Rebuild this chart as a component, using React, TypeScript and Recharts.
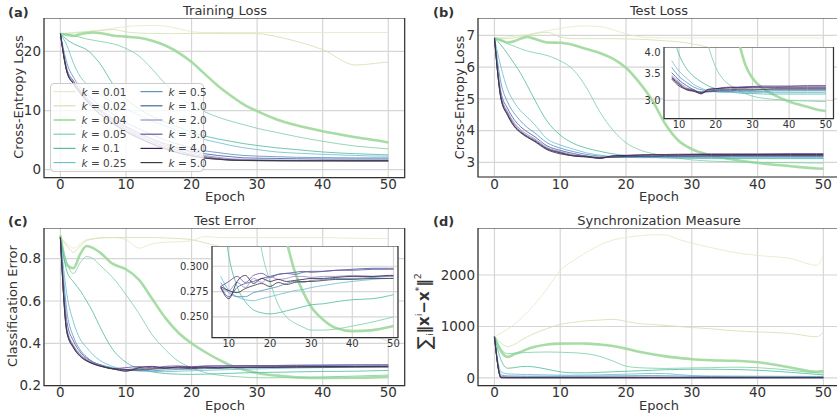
import { LineChart, Line, XAxis, YAxis, CartesianGrid, ReferenceArea } from 'recharts'

const EPOCHS = [0, 1, 2, 3, 4, 5, 6, 8, 10, 12, 14, 16, 18, 20, 22, 24, 26, 28, 30, 33, 36, 40, 45, 49, 50]

const K_VALUES = ['0.01', '0.02', '0.04', '0.05', '0.1', '0.25', '0.5', '1.0', '2.0', '3.0', '4.0', '5.0']

const COLORS = [
  '#e6eac6', '#d2e3b0', '#9fd89b', '#80d1a8', '#55bea2', '#6fc0d2',
  '#5d92c4', '#4a62a4', '#9a8fc4', '#6b55a0', '#3b1f55', '#3c3c3c',
]

// one row per k, same order as K_VALUES
const TRAIN_LOSS = [
  [23, 23.1, 23.2, 23.3, 23.4, 23.5, 23.6, 23.9, 24.2, 24.35, 24.4, 24.3, 23.85, 23.35, 23.2, 23.2, 23.2, 23.2, 23.2, 23.2, 23.2, 23.2, 23.2, 23.2, 23.2],
  [23, 23.05, 23.1, 23.2, 23.3, 23.4, 23.5, 23.7, 23.3, 23.1, 23.05, 23.0, 23.0, 23.05, 23.05, 23.05, 23.0, 23.0, 23.0, 22.5, 21.7, 20.3, 17.7, 18.1, 18.2],
  [23, 22.8, 22.6, 22.9, 23.1, 23.2, 23.1, 22.7, 22.5, 22.3, 21.8, 21.0, 19.8, 18.2, 16.2, 14.2, 12.5, 11.0, 9.9, 8.5, 7.5, 6.5, 5.5, 4.8, 4.6],
  [23, 22.9, 22.7, 22.4, 22.1, 21.9, 21.7, 21.3, 20.5, 19.2, 17.0, 14.5, 12.5, 10.9, 9.8, 8.9, 8.2, 7.6, 7.0, 6.3, 5.6, 4.8, 4.0, 3.6, 3.5],
  [23, 22.0, 21.3, 20.8, 20.3, 19.3, 18.0, 14.5, 12.0, 10.3, 9.0, 8.0, 7.2, 6.3, 5.7, 5.2, 4.8, 4.4, 4.1, 3.7, 3.4, 3.0, 2.7, 2.55, 2.5],
  [23, 21.0, 18.0, 15.8, 14.5, 13.5, 12.7, 11.4, 10.3, 9.2, 8.2, 7.4, 6.6, 5.8, 5.1, 4.6, 4.1, 3.7, 3.4, 3.0, 2.8, 2.6, 2.4, 2.3, 2.3],
  [23, 18.0, 15.6, 14.0, 12.8, 11.8, 10.9, 9.4, 8.0, 6.9, 5.9, 5.0, 4.3, 3.7, 3.2, 2.9, 2.6, 2.4, 2.3, 2.2, 2.1, 2.05, 2.0, 2.0, 2.0],
  [23, 17.0, 15.0, 13.5, 12.2, 11.1, 10.2, 8.6, 7.3, 6.2, 5.2, 4.4, 3.7, 3.1, 2.7, 2.4, 2.2, 2.0, 1.95, 1.9, 1.85, 1.8, 1.8, 1.8, 1.8],
  [23, 16.8, 14.9, 13.4, 12.1, 11.0, 10.1, 8.5, 7.1, 6.0, 5.0, 4.2, 3.5, 2.9, 2.4, 2.1, 1.85, 1.75, 1.7, 1.65, 1.6, 1.6, 1.55, 1.55, 1.55],
  [23, 16.6, 14.7, 13.2, 11.9, 10.8, 9.9, 8.2, 6.8, 5.7, 4.7, 3.9, 3.2, 2.6, 2.2, 1.9, 1.7, 1.62, 1.58, 1.55, 1.53, 1.52, 1.5, 1.5, 1.5],
  [23, 16.5, 14.5, 13.0, 11.7, 10.5, 9.5, 7.9, 6.5, 5.4, 4.4, 3.6, 2.9, 2.4, 2.0, 1.8, 1.62, 1.57, 1.55, 1.52, 1.5, 1.5, 1.5, 1.5, 1.5],
  [23, 16.5, 14.5, 12.9, 11.6, 10.4, 9.4, 7.8, 6.4, 5.3, 4.3, 3.5, 2.8, 2.3, 1.95, 1.75, 1.6, 1.55, 1.52, 1.5, 1.5, 1.5, 1.48, 1.48, 1.48],
]

const TEST_LOSS = [
  [6.92, 6.93, 6.95, 6.98, 7.0, 7.03, 7.07, 7.15, 7.22, 7.28, 7.3, 7.28, 7.18, 7.05, 6.96, 6.93, 6.92, 6.92, 6.92, 6.92, 6.92, 6.92, 6.92, 6.92, 6.92],
  [6.92, 6.9, 6.9, 6.93, 6.97, 7.0, 7.05, 7.1, 6.95, 6.9, 6.9, 6.9, 6.9, 6.89, 6.88, 6.86, 6.83, 6.8, 6.74, 6.6, 6.4, 6.1, 5.8, 5.75, 5.85],
  [6.92, 6.85, 6.78, 6.82, 6.9, 6.95, 6.9, 6.78, 6.77, 6.7, 6.57, 6.45, 6.27, 5.98, 5.52, 4.95, 4.2, 3.68, 3.42, 3.22, 3.1, 2.98, 2.88, 2.81, 2.8],
  [6.92, 6.84, 6.74, 6.66, 6.58, 6.51, 6.46, 6.37, 6.2, 5.92, 5.35, 4.6, 4.02, 3.62, 3.4, 3.28, 3.2, 3.13, 3.08, 3.04, 3.02, 3.0, 2.99, 2.98, 2.98],
  [6.92, 6.7, 6.42, 6.12, 5.8, 5.42, 5.02, 4.3, 3.86, 3.6, 3.45, 3.35, 3.27, 3.22, 3.18, 3.16, 3.14, 3.13, 3.13, 3.12, 3.12, 3.12, 3.12, 3.12, 3.12],
  [6.92, 6.0, 5.3, 4.9, 4.62, 4.42, 4.22, 3.74, 3.55, 3.42, 3.3, 3.23, 3.18, 3.16, 3.15, 3.15, 3.15, 3.15, 3.15, 3.15, 3.15, 3.15, 3.15, 3.15, 3.15],
  [6.92, 5.5, 4.9, 4.55, 4.3, 4.1, 3.95, 3.62, 3.45, 3.34, 3.25, 3.2, 3.18, 3.17, 3.17, 3.17, 3.17, 3.17, 3.17, 3.17, 3.18, 3.18, 3.18, 3.18, 3.18],
  [6.92, 5.2, 4.7, 4.35, 4.12, 3.96, 3.83, 3.52, 3.38, 3.28, 3.2, 3.16, 3.16, 3.17, 3.18, 3.18, 3.19, 3.19, 3.19, 3.2, 3.2, 3.2, 3.2, 3.2, 3.2],
  [6.92, 5.1, 4.6, 4.25, 4.03, 3.88, 3.76, 3.47, 3.34, 3.24, 3.18, 3.14, 3.19, 3.21, 3.22, 3.22, 3.23, 3.23, 3.24, 3.24, 3.24, 3.25, 3.25, 3.25, 3.25],
  [6.92, 5.05, 4.55, 4.2, 3.98, 3.83, 3.72, 3.44, 3.32, 3.22, 3.2, 3.12, 3.2, 3.22, 3.24, 3.25, 3.25, 3.26, 3.26, 3.27, 3.27, 3.27, 3.28, 3.28, 3.28],
  [6.92, 5.0, 4.5, 4.15, 3.95, 3.8, 3.69, 3.42, 3.3, 3.2, 3.17, 3.13, 3.21, 3.22, 3.23, 3.24, 3.24, 3.24, 3.25, 3.25, 3.25, 3.25, 3.25, 3.25, 3.25],
  [6.92, 5.0, 4.48, 4.13, 3.93, 3.79, 3.67, 3.4, 3.27, 3.21, 3.18, 3.15, 3.17, 3.19, 3.2, 3.2, 3.21, 3.21, 3.21, 3.21, 3.22, 3.22, 3.22, 3.22, 3.22],
]

const TEST_ERROR = [
  [0.9, 0.87, 0.85, 0.87, 0.89, 0.895, 0.9, 0.9, 0.89, 0.85, 0.87, 0.878, 0.88, 0.885, 0.905, 0.9, 0.9, 0.9, 0.9, 0.9, 0.9, 0.9, 0.896, 0.895, 0.895],
  [0.9, 0.86, 0.83, 0.86, 0.885, 0.893, 0.897, 0.9, 0.9, 0.9, 0.9, 0.898, 0.895, 0.89, 0.875, 0.86, 0.84, 0.82, 0.79, 0.74, 0.68, 0.6, 0.49, 0.42, 0.41],
  [0.91, 0.77, 0.755, 0.82, 0.86, 0.85, 0.83, 0.775, 0.75, 0.7, 0.61, 0.52, 0.45, 0.4, 0.36, 0.325, 0.295, 0.275, 0.26, 0.247, 0.239, 0.236, 0.237, 0.24, 0.241],
  [0.9, 0.78, 0.73, 0.78, 0.81, 0.8, 0.77, 0.71, 0.63, 0.54, 0.44, 0.37, 0.315, 0.285, 0.262, 0.25, 0.244, 0.24, 0.237, 0.237, 0.238, 0.241, 0.245, 0.249, 0.25],
  [0.9, 0.74, 0.69, 0.65, 0.6, 0.545, 0.48, 0.37, 0.31, 0.28, 0.265, 0.257, 0.254, 0.253, 0.254, 0.256, 0.258, 0.26, 0.262, 0.263, 0.265, 0.267, 0.268, 0.271, 0.272],
  [0.9, 0.63, 0.5, 0.42, 0.38, 0.345, 0.32, 0.29, 0.276, 0.27, 0.267, 0.266, 0.268, 0.27, 0.272, 0.274, 0.276, 0.277, 0.279, 0.281, 0.283, 0.285, 0.287, 0.288, 0.288],
  [0.9, 0.55, 0.43, 0.37, 0.335, 0.312, 0.3, 0.284, 0.274, 0.27, 0.27, 0.274, 0.276, 0.278, 0.28, 0.283, 0.285, 0.284, 0.286, 0.287, 0.288, 0.288, 0.289, 0.29, 0.29],
  [0.9, 0.5, 0.41, 0.36, 0.33, 0.31, 0.298, 0.28, 0.27, 0.279, 0.283, 0.285, 0.288, 0.29, 0.292, 0.293, 0.292, 0.294, 0.295, 0.295, 0.296, 0.297, 0.298, 0.298, 0.298],
  [0.9, 0.47, 0.39, 0.35, 0.325, 0.308, 0.297, 0.278, 0.276, 0.284, 0.279, 0.288, 0.284, 0.29, 0.287, 0.288, 0.29, 0.29, 0.289, 0.29, 0.29, 0.291, 0.29, 0.29, 0.29],
  [0.9, 0.46, 0.385, 0.345, 0.32, 0.305, 0.295, 0.28, 0.285, 0.29, 0.284, 0.291, 0.293, 0.289, 0.292, 0.293, 0.294, 0.295, 0.294, 0.295, 0.296, 0.296, 0.297, 0.297, 0.297],
  [0.9, 0.45, 0.38, 0.34, 0.318, 0.303, 0.293, 0.279, 0.268, 0.285, 0.291, 0.283, 0.288, 0.285, 0.287, 0.285, 0.286, 0.287, 0.288, 0.288, 0.289, 0.29, 0.29, 0.291, 0.291],
  [0.9, 0.45, 0.378, 0.338, 0.316, 0.302, 0.292, 0.28, 0.276, 0.274, 0.278, 0.281, 0.283, 0.28, 0.284, 0.282, 0.284, 0.285, 0.285, 0.286, 0.287, 0.287, 0.288, 0.288, 0.288],
]

const SYNC = [
  [800, 870, 950, 1040, 1150, 1280, 1410, 1735, 2090, 2280, 2440, 2580, 2680, 2730, 2760, 2780, 2780, 2690, 2620, 2530, 2450, 2380, 2320, 2190, 2380],
  [800, 680, 610, 650, 730, 800, 860, 960, 1040, 1080, 1110, 1125, 1140, 1100, 1055, 1040, 1020, 1000, 980, 955, 920, 895, 865, 800, 890],
  [800, 520, 410, 460, 505, 560, 600, 650, 667, 670, 668, 650, 620, 570, 510, 460, 420, 390, 365, 345, 335, 305, 205, 120, 135],
  [800, 560, 470, 480, 490, 495, 500, 505, 500, 490, 470, 420, 330, 230, 200, 190, 185, 190, 195, 200, 210, 200, 150, 100, 95],
  [800, 350, 190, 200, 220, 225, 215, 170, 120, 100, 100, 110, 120, 130, 140, 150, 160, 165, 170, 170, 165, 150, 110, 70, 60],
  [800, 120, 80, 75, 70, 68, 65, 60, 55, 55, 58, 62, 68, 75, 82, 88, 85, 65, 48, 40, 38, 35, 32, 30, 30],
  [800, 60, 40, 38, 36, 35, 35, 34, 34, 35, 36, 38, 40, 42, 44, 45, 42, 38, 32, 28, 25, 22, 20, 20, 20],
  [800, 25, 18, 16, 15, 15, 15, 15, 15, 16, 17, 18, 18, 18, 17, 16, 15, 14, 13, 12, 12, 12, 11, 11, 11],
  [800, 12, 9, 8, 8, 8, 8, 8, 8, 8, 8, 8, 8, 8, 8, 8, 8, 8, 7, 7, 7, 7, 7, 7, 7],
  [800, 8, 6, 6, 6, 6, 6, 6, 6, 6, 6, 6, 6, 6, 6, 6, 6, 6, 6, 6, 6, 6, 6, 6, 6],
  [800, 6, 5, 5, 5, 5, 5, 5, 5, 5, 5, 5, 5, 5, 5, 5, 5, 5, 5, 5, 5, 5, 5, 5, 5],
  [800, 5, 4, 4, 4, 4, 4, 4, 4, 4, 4, 4, 4, 4, 4, 4, 4, 4, 4, 4, 4, 4, 4, 4, 4],
]

const X_TICKS = [0, 10, 20, 30, 40, 50]
const INSET_X_TICKS = [10, 20, 30, 40, 50]

const TEXT = '#333333'
const GRID = '#d6d6d6'
const FRAME = '#333333'
const Y_W = 44
const X_H = 26

function buildRows(series: number[][], minEpoch = 0) {
  return EPOCHS.map((epoch, i) => {
    const row: Record<string, number> = { epoch }
    series.forEach((vals, j) => { row[`s${j}`] = vals[i] })
    return row
  }).filter((r) => r.epoch >= minEpoch)
}

function seriesLines(series: number[][]) {
  return series.map((_, j) => (
    <Line
      key={j}
      type="monotone"
      dataKey={`s${j}`}
      stroke={COLORS[j]}
      strokeWidth={j === 2 ? 2.6 : 1}
      strokeOpacity={j === 2 ? 0.9 : 0.85}
      dot={false}
      activeDot={false}
      isAnimationActive={false}
    />
  ))
}

interface PanelProps {
  left: number
  top: number
  plotW: number
  plotH: number
  series: number[][]
  yDomain: [number, number]
  yTicks: number[]
}

function Panel({ left, top, plotW, plotH, series, yDomain, yTicks }: PanelProps) {
  const xDomain: [number, number] = [-2.5, 52.5]
  return (
    <div style={{ position: 'absolute', left: left - Y_W, top }}>
      <LineChart
        width={Y_W + plotW + 4}
        height={plotH + X_H}
        data={buildRows(series)}
        margin={{ top: 0, right: 4, bottom: 0, left: 0 }}
      >
        <CartesianGrid stroke={GRID} strokeWidth={1.2} />
        <XAxis
          type="number"
          dataKey="epoch"
          domain={xDomain}
          ticks={X_TICKS}
          allowDataOverflow
          height={X_H}
          tickLine={false}
          axisLine={false}
          tickSize={0}
          tickMargin={2}
          tick={{ fontSize: 13.5, fill: TEXT }}
        />
        <YAxis
          type="number"
          domain={yDomain}
          ticks={yTicks}
          allowDataOverflow
          width={Y_W}
          tickLine={false}
          axisLine={false}
          tickSize={0}
          tickMargin={3}
          tick={{ fontSize: 13.5, fill: TEXT }}
        />
        {seriesLines(series)}
        <ReferenceArea x1={xDomain[0]} x2={xDomain[1]} y1={yDomain[0]} y2={yDomain[1]}
          fill="none" stroke={FRAME} strokeWidth={1.2} fillOpacity={0} />
      </LineChart>
    </div>
  )
}

interface InsetProps extends PanelProps {
  xDomain: [number, number]
  yW: number
  fmt: (v: number) => string
}

function Inset({ left, top, plotW, plotH, series, xDomain, yDomain, yTicks, yW, fmt }: InsetProps) {
  return (
    <>
      <div style={{ position: 'absolute', left, top, width: plotW, height: plotH, background: '#ffffff' }} />
      <div style={{ position: 'absolute', left: left - yW, top }}>
        <LineChart
          width={yW + plotW + 2}
          height={plotH + 14}
          data={buildRows(series, 8)}
          margin={{ top: 0, right: 2, bottom: 0, left: 0 }}
        >
          <CartesianGrid stroke={GRID} strokeWidth={1.2} />
          <XAxis
            type="number"
            dataKey="epoch"
            domain={xDomain}
            ticks={INSET_X_TICKS}
            allowDataOverflow
            height={14}
            tickLine={false}
            axisLine={false}
            tickSize={0}
            tickMargin={2}
            tick={{ fontSize: 10, fill: TEXT }}
          />
          <YAxis
            type="number"
            domain={yDomain}
            ticks={yTicks}
            allowDataOverflow
            width={yW}
            tickLine={false}
            axisLine={false}
            tickSize={0}
            tickMargin={3.5}
            tickFormatter={fmt}
            tick={{ fontSize: 10, fill: TEXT }}
          />
          {seriesLines(series)}
          <ReferenceArea x1={xDomain[0]} x2={xDomain[1]} y1={yDomain[0]} y2={yDomain[1]}
            fill="none" stroke={FRAME} strokeWidth={1.2} fillOpacity={0} />
        </LineChart>
      </div>
    </>
  )
}

function KLegend() {
  return (
    <div style={{
      position: 'absolute', left: 49.5, top: 82.7, width: 154.5, height: 89,
      border: '1px solid #cccccc', borderRadius: 4, background: 'rgba(255,255,255,0.8)',
      boxSizing: 'border-box',
    }}>
      <svg width={154} height={88} style={{ position: 'absolute', left: -1, top: -1, overflow: 'visible' }}>
        {K_VALUES.map((k, i) => {
          const col = Math.floor(i / 6)
          const row = i % 6
          const x0 = col === 0 ? 3.5 : 90.5
          const y = 8.6 + row * 14.2
          return (
            <g key={k}>
              <line x1={x0} x2={x0 + 22} y1={y} y2={y} stroke={COLORS[i]} strokeWidth={i === 2 ? 1.6 : 1.2} />
              <text x={x0 + 28} y={y} dominantBaseline="central" fontSize={10.5} fill="#444444">
                <tspan fontStyle="italic">k</tspan> = {k}
              </text>
            </g>
          )
        })}
      </svg>
    </div>
  )
}

function Labels() {
  const title = { fontSize: 13, fill: TEXT, textAnchor: 'middle' as const }
  const letter = { fontSize: 13, fill: TEXT, fontWeight: 'bold' as const }
  return (
    <svg width={837} height={418} style={{ position: 'absolute', left: 0, top: 0, pointerEvents: 'none' }}>
      <text x={8} y={17} {...letter}>(a)</text>
      <text x={433} y={17} {...letter}>(b)</text>
      <text x={8} y={226} {...letter}>(c)</text>
      <text x={433} y={226} {...letter}>(d)</text>

      <text x={225} y={15} {...title}>Training Loss</text>
      <text x={659} y={15} {...title}>Test Loss</text>
      <text x={225} y={224.5} {...title}>Test Error</text>
      <text x={659} y={224.5} {...title}>Synchronization Measure</text>

      <text x={225} y={201} {...title}>Epoch</text>
      <text x={659} y={201} {...title}>Epoch</text>
      <text x={225} y={410} {...title}>Epoch</text>
      <text x={659} y={410} {...title}>Epoch</text>

      <text transform="translate(18.5,97) rotate(-90)" dominantBaseline="central" {...title}>Cross-Entropy Loss</text>
      <text transform="translate(459,97.5) rotate(-90)" dominantBaseline="central" {...title}>Cross-Entropy Loss</text>
      <text transform="translate(12.5,306) rotate(-90)" dominantBaseline="central" {...title}>Classification Error</text>
      <text transform="translate(424,311) rotate(-90)" dominantBaseline="central" textAnchor="middle" fontSize={15} fill={TEXT}>
        <tspan fontSize={19}>∑</tspan>
        <tspan fontSize={9.5} dy={5}>i</tspan>
        <tspan dy={-5} fontWeight="bold">‖x</tspan>
        <tspan fontSize={9.5} dy={-6}>i</tspan>
        <tspan dy={6} fontWeight="bold">−</tspan>
        <tspan fontWeight="bold">x</tspan>
        <tspan fontSize={9.5} dy={-6}>*</tspan>
        <tspan dy={6} fontWeight="bold">‖</tspan>
        <tspan fontSize={9.5} dy={-7}>2</tspan>
      </text>
    </svg>
  )
}

export default function App() {
  return (
    <div style={{
      position: 'absolute', left: 0, top: 0, width: 837, height: 418, overflow: 'hidden',
      background: '#ffffff', fontFamily: "'DejaVu Sans', sans-serif",
    }}>
      <Panel left={44.3} top={18.3} plotW={360.7} plotH={159.7} series={TRAIN_LOSS}
        yDomain={[-1.35, 25.65]} yTicks={[0, 10, 20]} />
      <KLegend />
      <Panel left={477.6} top={18.3} plotW={361.8} plotH={159} series={TEST_LOSS}
        yDomain={[2.54, 7.55]} yTicks={[3, 4, 5, 6, 7]} />
      <Inset left={663.5} top={46.7} plotW={169.5} plotH={71.6} series={TEST_LOSS}
        xDomain={[5.9, 52.1]} yDomain={[2.66, 4.0]} yTicks={[3.0, 3.5, 4.0]} yW={24}
        fmt={(v) => v.toFixed(1)} />
      <Panel left={44.3} top={227.7} plotW={360.7} plotH={157.6} series={TEST_ERROR}
        yDomain={[0.2, 0.945]} yTicks={[0.2, 0.4, 0.6, 0.8]} />
      <Inset left={211.7} top={245.7} plotW={186} plotH={91.6} series={TEST_ERROR}
        xDomain={[5.9, 51.1]} yDomain={[0.2296, 0.32]} yTicks={[0.25, 0.275, 0.3]} yW={32}
        fmt={(v) => v.toFixed(3)} />
      <Panel left={477.6} top={227.7} plotW={361.8} plotH={157.6} series={SYNC}
        yDomain={[-148, 2913]} yTicks={[0, 1000, 2000]} />
      <Labels />
    </div>
  )
}
